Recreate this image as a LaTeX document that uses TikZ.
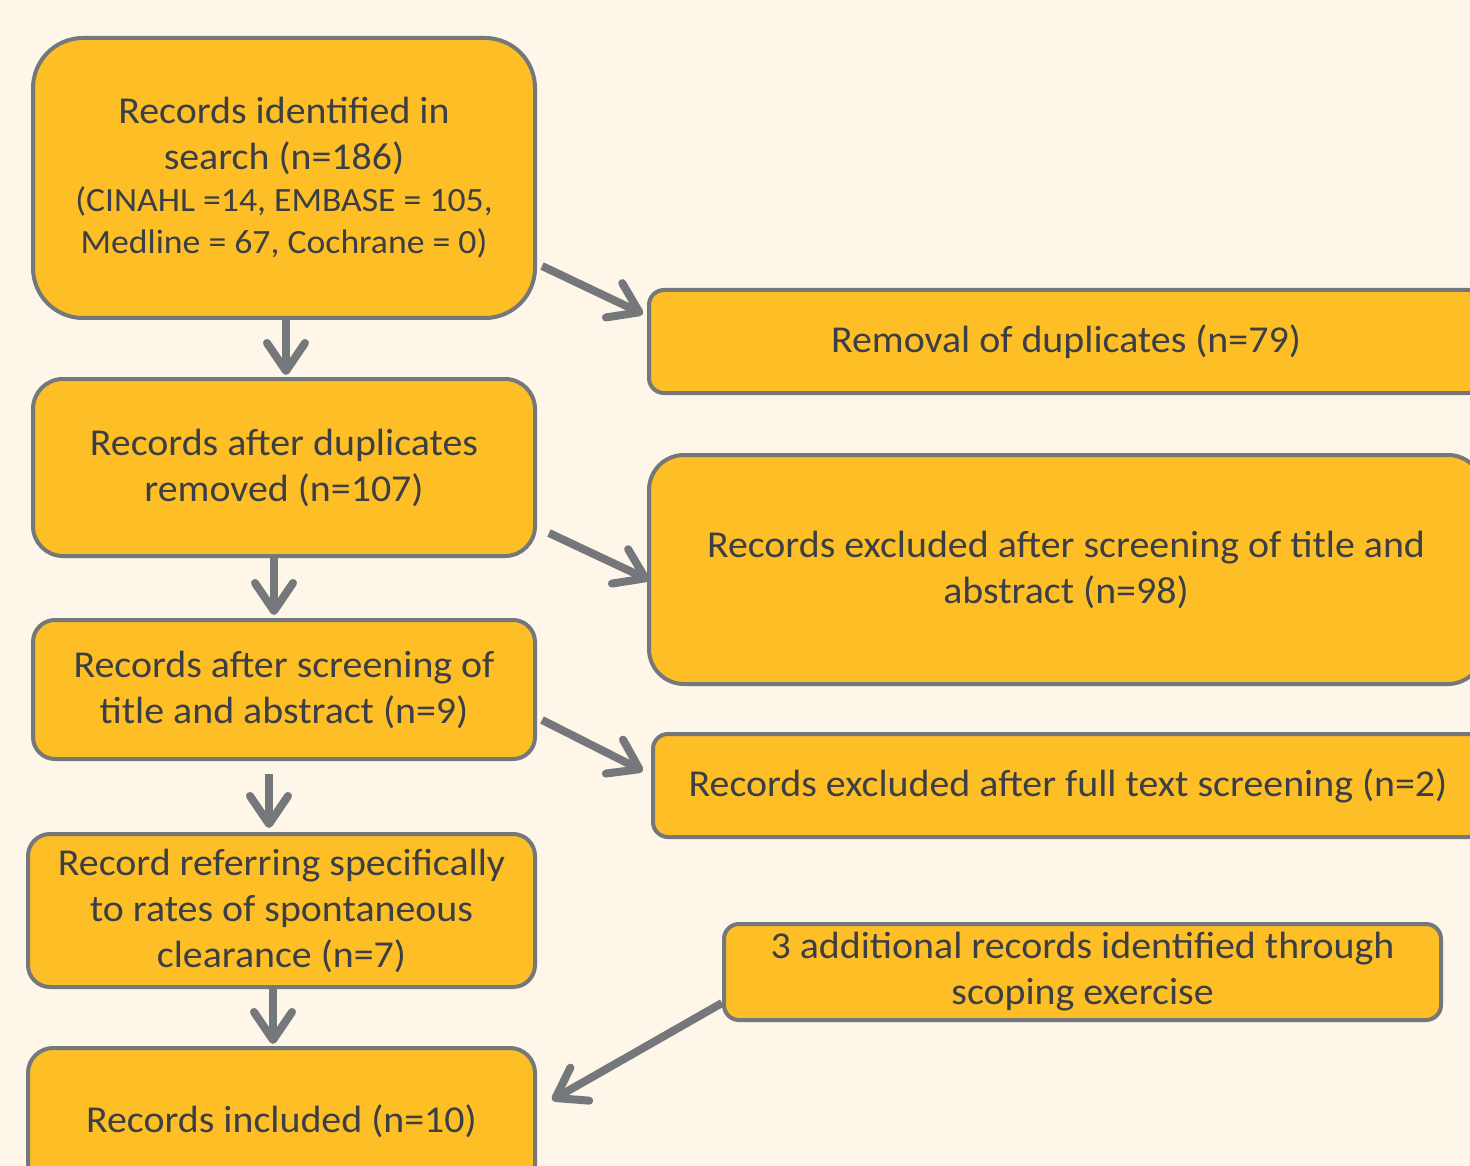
\documentclass[tikz,border=0pt]{standalone}
\usepackage{fontspec}
\setmainfont[FakeStretch=1.05]{Carlito}
\usetikzlibrary{arrows.meta,calc}
\definecolor{bgc}{HTML}{FEF6E8}
\definecolor{boxfill}{HTML}{FDBE26}
\definecolor{boxline}{HTML}{75787B}
\definecolor{txt}{HTML}{3B3F45}
\tikzset{
  flowbox/.style={draw=boxline, line width=4pt, fill=boxfill, text=txt, align=center,
    inner sep=0pt, font=\fontsize{38}{46}\selectfont},
  flowarrow/.style={draw=boxline, line width=8pt, -{Straight Barb[length=28pt,width=38pt,round]}}
}
\newcommand{\smallline}{\fontsize{34}{42}\selectfont}
\begin{document}
\begin{tikzpicture}[x=1pt,y=-1pt]
\fill[bgc] (0,0) rectangle (1470,1166);
\useasboundingbox (0,0) rectangle (1470,1166);
\clip (0,0) rectangle (1470,1166);

\node[flowbox, rounded corners=50pt, minimum width=502pt, minimum height=280pt] (A) at (284,178)
  {Records identified in\\ search (n=186)\\[-4pt] {\smallline (CINAHL =14, EMBASE = 105,}\\[-4pt] {\smallline Medline = 67, Cochrane = 0)}};
\node[flowbox, rounded corners=15pt, minimum width=834pt, minimum height=103pt] (R) at (1066,341.5)
  {Removal of duplicates (n=79)};
\node[flowbox, rounded corners=30pt, minimum width=502pt, minimum height=177pt] (B) at (284,467.5)
  {Records after duplicates\\ removed (n=107)};
\node[flowbox, rounded corners=35pt, minimum width=834pt, minimum height=229pt] (X1) at (1066,569.5)
  {Records excluded after screening of title and\\ abstract (n=98)};
\node[flowbox, rounded corners=22pt, minimum width=502pt, minimum height=139pt] (C) at (284,689.5)
  {Records after screening of\\ title and abstract (n=9)};
\node[flowbox, rounded corners=15pt, minimum width=830pt, minimum height=103pt] (X2) at (1068,785.5)
  {Records excluded after full text screening (n=2)};
\node[flowbox, rounded corners=22pt, minimum width=507pt, minimum height=153pt] (D) at (281.5,910.5)
  {Record referring specifically\\ to rates of spontaneous\\ clearance (n=7)};
\node[flowbox, rounded corners=15pt, minimum width=717pt, minimum height=96pt] (S) at (1082.5,972)
  {3 additional records identified through\\ scoping exercise};
\node[flowbox, rounded corners=25pt, minimum width=507pt, minimum height=146pt] (E) at (281.5,1121)
  {Records included (n=10)};

\draw[flowarrow] ($(A.south)+(2,0)$) -- ($(B.north)+(2,-2)$);
\draw[flowarrow] ($(A.east)+(5,88)$) -- ($(R.west)+(-4,-27.5)$);
\draw[flowarrow] ($(B.south)+(-10,0)$) -- ($(C.north)+(-10,-3)$);
\draw[flowarrow] ($(B.east)+(12,65.5)$) -- ($(X1.west)+(2,10.5)$);
\draw[flowarrow] ($(C.south)+(-15,13)$) -- ($(D.north)+(-12.5,-4)$);
\draw[flowarrow] ($(C.east)+(5,30.5)$) -- ($(X2.west)+(-8,-14.5)$);
\draw[flowarrow] ($(D.south)+(-8.5,0)$) -- ($(E.north)+(-8.5,-2)$);
\draw[flowarrow] ($(S.west)+(0,31)$) -- ($(E.east)+(15,-21)$);
\end{tikzpicture}
\end{document}
